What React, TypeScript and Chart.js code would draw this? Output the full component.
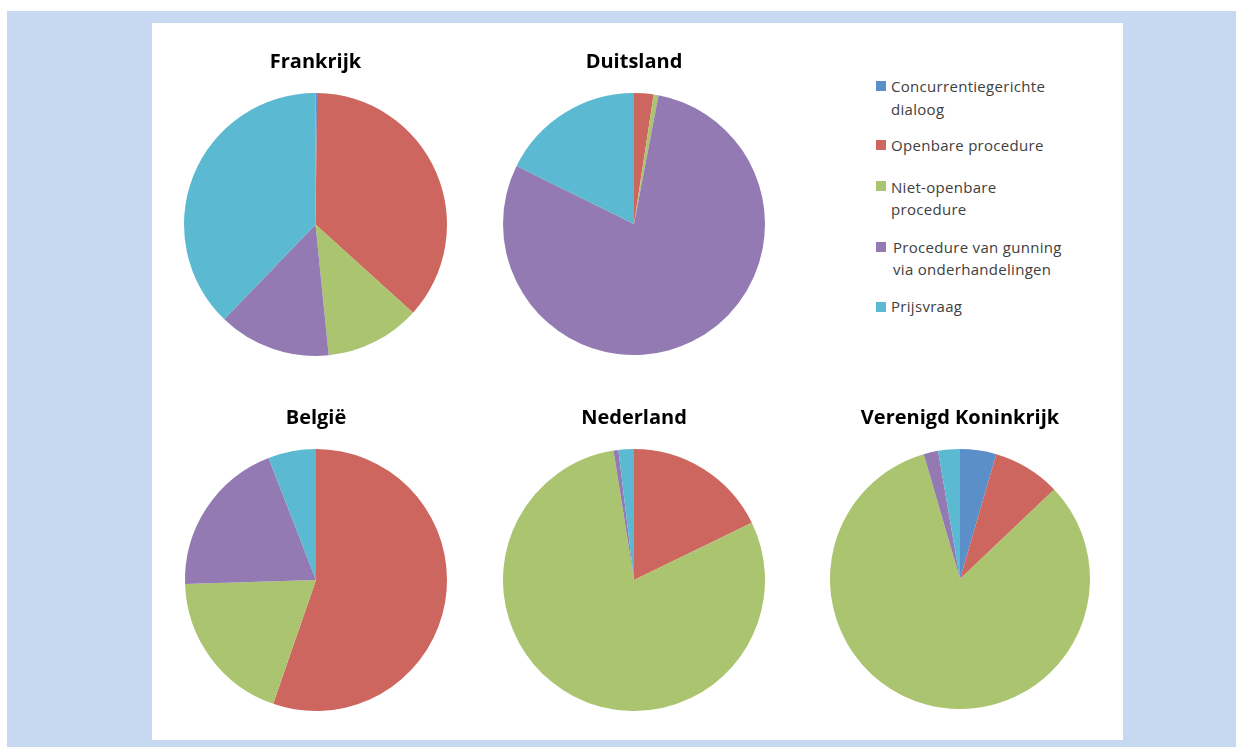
import React, { useEffect, useRef } from "react";
import { Chart, registerables } from "chart.js";

Chart.register(...registerables);

const categories = [
  "Concurrentiegerichte dialoog",
  "Openbare procedure",
  "Niet-openbare procedure",
  "Procedure van gunning via onderhandelingen",
  "Prijsvraag",
];

const legendLines = [
  ["Concurrentiegerichte", "dialoog"],
  ["Openbare procedure"],
  ["Niet-openbare", "procedure"],
  ["Procedure van gunning", "via onderhandelingen"],
  ["Prijsvraag"],
];

const colors = ["#5B8FC9", "#CD665F", "#ABC46F", "#937AB2", "#5BB9D1"];

const countries = ["Frankrijk", "Duitsland", "België", "Nederland", "Verenigd Koninkrijk"];

const frankrijk = [0.2, 36.5, 11.7, 13.8, 37.8];
const duitsland = [0, 2.4, 0.6, 79.3, 17.7];
const belgie = [0, 55.3, 19.2, 19.6, 5.9];
const nederland = [0, 17.8, 79.7, 0.6, 1.9];
const verenigdKoninkrijk = [4.5, 8.4, 82.6, 1.8, 2.7];

const seriesValues = [frankrijk, duitsland, belgie, nederland, verenigdKoninkrijk];

// layout: pie centre, radius, title centre y
const placements = [
  { cx: 315.5, cy: 224.5, r: 131.5, ty: 62 },
  { cx: 633.5, cy: 225, r: 131, ty: 62 },
  { cx: 315.5, cy: 580, r: 131, ty: 418 },
  { cx: 633.5, cy: 581, r: 131, ty: 418 },
  { cx: 959.5, cy: 582, r: 130, ty: 418 },
];

const TITLE_PAD_TOP = 4;
const TITLE_LINE = 24;
const TITLE_PAD_BOTTOM = 19;
const PAD_X = 10;

function PieChart({ index }: { index: number }) {
  const ref = useRef<HTMLCanvasElement | null>(null);
  const p = placements[index];
  const width = Math.round(2 * p.r + 2 * PAD_X);
  const headH = TITLE_PAD_TOP + TITLE_LINE + TITLE_PAD_BOTTOM;
  const height = Math.round(headH + 2 * p.r + 2);
  const left = p.cx - p.r - PAD_X;
  const top = p.ty - TITLE_LINE / 2 - TITLE_PAD_TOP;

  useEffect(() => {
    if (!ref.current) return;
    const chart = new Chart(ref.current, {
      type: "pie",
      data: {
        labels: categories,
        datasets: [
          {
            data: seriesValues[index],
            backgroundColor: colors,
            borderWidth: 0,
          },
        ],
      },
      options: {
        responsive: false,
        animation: false,
        layout: { padding: { left: PAD_X, right: PAD_X, top: 0, bottom: 2 } },
        plugins: {
          legend: { display: false },
          tooltip: { enabled: false },
          title: {
            display: true,
            text: countries[index],
            color: "#000000",
            font: { family: "'Open Sans'", size: 20, weight: "bold", lineHeight: 1.2 },
            padding: { top: TITLE_PAD_TOP, bottom: TITLE_PAD_BOTTOM },
          },
        },
      },
    });
    return () => chart.destroy();
  }, [index]);

  return (
    <canvas
      ref={ref}
      width={width}
      height={height}
      style={{ position: "absolute", left, top, width, height }}
    />
  );
}

const legendPos = [
  { sq: 81, lines: [86, 109], x: 891 },
  { sq: 140, lines: [145], x: 891 },
  { sq: 181, lines: [187, 209], x: 891 },
  { sq: 242, lines: [247, 269], x: 893 },
  { sq: 302, lines: [306], x: 891 },
];

export default function App() {
  return (
    <div
      style={{
        position: "fixed",
        left: 0,
        top: 0,
        width: 1236,
        height: 747,
        background: "#ffffff",
        overflow: "hidden",
        fontFamily: "'Open Sans', sans-serif",
      }}
    >
      <div style={{ position: "absolute", left: 7, top: 11, width: 1229, height: 736, background: "#C6D9F1" }} />
      <div style={{ position: "absolute", left: 152, top: 23, width: 971, height: 717, background: "#ffffff" }} />
      {countries.map((_, i) => (
        <PieChart key={i} index={i} />
      ))}
      {legendLines.map((lines, i) => (
        <React.Fragment key={i}>
          <div
            style={{
              position: "absolute",
              left: 876,
              top: legendPos[i].sq,
              width: 10,
              height: 10,
              background: colors[i],
            }}
          />
          {lines.map((t, j) => (
            <div
              key={j}
              style={{
                position: "absolute",
                left: legendPos[i].x,
                top: legendPos[i].lines[j] - 11.5,
                height: 23,
                lineHeight: "23px",
                fontSize: 15,
                letterSpacing: "0.3px",
                color: "#404040",
                whiteSpace: "nowrap",
              }}
            >
              {t}
            </div>
          ))}
        </React.Fragment>
      ))}
    </div>
  );
}
